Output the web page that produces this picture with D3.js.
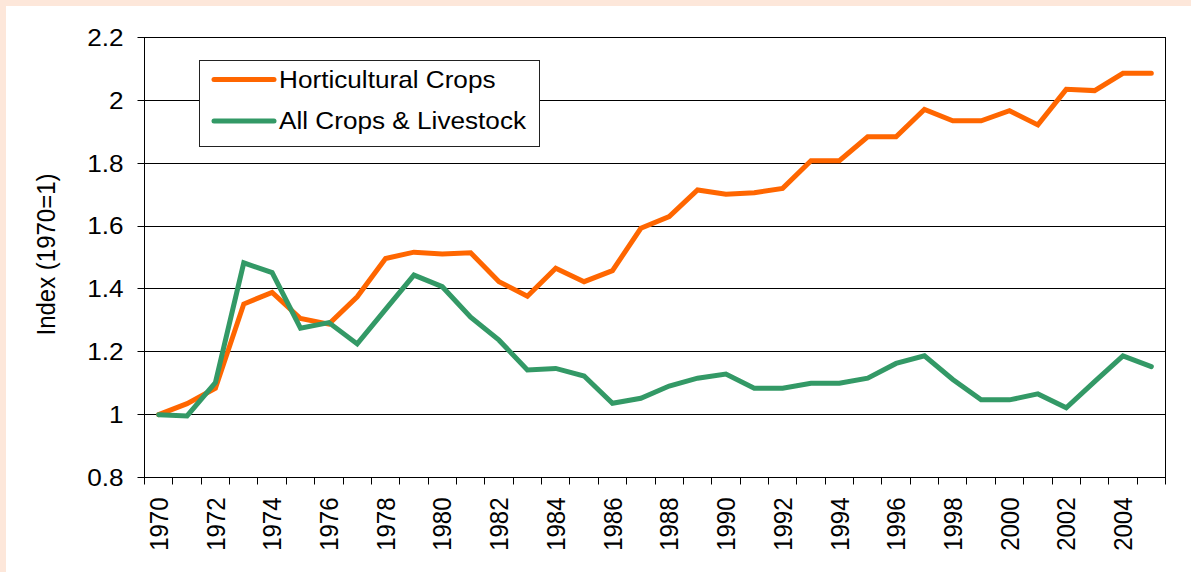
<!DOCTYPE html>
<html lang="en">
	<head>
		<meta charset="utf-8">
		<title>Horticultural Crops vs All Crops & Livestock</title>
		<script type="text/javascript" src="https://cdn.jsdelivr.net/npm/d3@7"></script>
		<style>
			body { margin: 0; background: white; }
			text { font-family: "Liberation Sans", Arial, sans-serif; fill: black; }
		</style>
	</head>
	<body>
		<script type="text/javascript">
			// Data (index, 1970 = 1).
			var years = d3.range(1970, 2006);
			var horticultural = [1.00, 1.035, 1.084, 1.352, 1.389, 1.306, 1.288, 1.375, 1.497, 1.517,
				1.511, 1.515, 1.423, 1.377, 1.466, 1.423, 1.458, 1.593, 1.630, 1.715,
				1.701, 1.706, 1.720, 1.808, 1.808, 1.884, 1.884, 1.971, 1.935, 1.935,
				1.967, 1.922, 2.035, 2.031, 2.086, 2.086];
			var allCrops = [1.00, 0.996, 1.102, 1.483, 1.452, 1.275, 1.293, 1.225, 1.335, 1.444,
				1.407, 1.310, 1.237, 1.142, 1.147, 1.123, 1.036, 1.052, 1.091, 1.116,
				1.129, 1.084, 1.084, 1.100, 1.100, 1.116, 1.163, 1.187, 1.112, 1.047,
				1.047, 1.066, 1.022, 1.105, 1.187, 1.153];
			var seriesNames = ["Horticultural Crops", "All Crops & Livestock"];
			var seriesColors = ["#ff6600", "#339966"];
			var yTicks = [0.8, 1, 1.2, 1.4, 1.6, 1.8, 2, 2.2];
			var xLabelYears = years.filter(function(d) { return d % 2 == 0; });

			var width = 1191, height = 572;
			var plotLeft = 144.5, plotRight = 1165.5, plotTop = 37.5, plotBottom = 477.5;
			// the source picture is a little stretched sideways
			var stretch = "scale(1.09,1)";

			var svg = d3.select("body")
						.append("svg")
						.attr("width", width)
						.attr("height", height);

			// peach frame on the top and left edges
			svg.append("rect")
				.attr("x", 0).attr("y", 0)
				.attr("width", width).attr("height", height)
				.attr("fill", "#fde7da");
			svg.append("rect")
				.attr("x", 6).attr("y", 6)
				.attr("width", width - 6).attr("height", height - 6)
				.attr("fill", "white");

			var x = d3.scaleBand()
					  .domain(years)
					  .range([plotLeft, plotRight])
					  .padding(0);
			var y = d3.scaleLinear()
					  .domain([0.8, 2.2])
					  .range([plotBottom, plotTop]);
			// snap 1px lines onto the pixel grid
			var crisp = function(v) { return Math.round(v - 0.5) + 0.5; };

			// gridlines, running out through the tick marks
			svg.selectAll("gridline")
				.data(yTicks)
				.enter()
				.append("line")
				.attr("x1", plotLeft - 7).attr("x2", plotRight)
				.attr("y1", function(d) { return crisp(y(d)); })
				.attr("y2", function(d) { return crisp(y(d)); })
				.attr("stroke", "black")
				.attr("stroke-width", 1);

			// y labels
			svg.selectAll("ylabel")
				.data(yTicks)
				.enter()
				.append("text")
				.attr("transform", function(d) { return "translate(" + (plotLeft - 21) + "," + y(d) + ") " + stretch; })
				.attr("dy", "0.35em")
				.attr("text-anchor", "end")
				.attr("font-size", 24)
				.text(function(d) { return String(d); });

			// plot frame
			svg.append("rect")
				.attr("x", plotLeft).attr("y", plotTop)
				.attr("width", plotRight - plotLeft).attr("height", plotBottom - plotTop)
				.attr("fill", "none")
				.attr("stroke", "black")
				.attr("stroke-width", 1);

			// x ticks sit on the category boundaries
			var boundaries = years.map(function(d) { return x(d); }).concat([plotRight]);
			svg.selectAll("xtick")
				.data(boundaries)
				.enter()
				.append("line")
				.attr("x1", function(d) { return crisp(d); })
				.attr("x2", function(d) { return crisp(d); })
				.attr("y1", plotBottom).attr("y2", plotBottom + 7)
				.attr("stroke", "black");

			svg.selectAll("xlabel")
				.data(xLabelYears)
				.enter()
				.append("text")
				.attr("transform", function(d) {
					return "translate(" + (x(d) + x.bandwidth() / 2) + "," + (plotBottom + 20) + ") " + stretch + " rotate(-90)";
				})
				.attr("dy", "0.35em")
				.attr("text-anchor", "end")
				.attr("font-size", 24)
				.text(function(d) { return d; });

			// y axis title
			svg.append("text")
				.attr("transform", "translate(55," + ((plotTop + plotBottom) / 2 - 3) + ") " + stretch + " rotate(-90)")
				.attr("text-anchor", "middle")
				.attr("font-size", 24)
				.text("Index (1970=1)");

			// series lines
			var line = d3.line()
						 .x(function(d, i) { return x(years[i]) + x.bandwidth() / 2; })
						 .y(function(d) { return y(d); });
			[horticultural, allCrops].forEach(function(values, i) {
				svg.append("path")
					.datum(values)
					.attr("d", line)
					.attr("fill", "none")
					.attr("stroke", seriesColors[i])
					.attr("stroke-width", 5)
					.attr("stroke-linecap", "round")
					.attr("stroke-linejoin", "miter");
			});

			// legend
			var legend = svg.append("g");
			legend.append("rect")
				.attr("x", 199.5).attr("y", 60.5)
				.attr("width", 340).attr("height", 86)
				.attr("fill", "white")
				.attr("stroke", "#222")
				.attr("stroke-width", 1);
			seriesNames.forEach(function(name, i) {
				var ly = 79.5 + i * 41.5;
				legend.append("line")
					.attr("x1", 214).attr("x2", 274)
					.attr("y1", ly).attr("y2", ly)
					.attr("stroke", seriesColors[i])
					.attr("stroke-width", 5)
					.attr("stroke-linecap", "round");
				legend.append("text")
					.attr("transform", "translate(279," + ly + ") " + stretch)
					.attr("dy", "0.35em")
					.attr("font-size", 24)
					.text(name);
			});
		</script>
	</body>
</html>
